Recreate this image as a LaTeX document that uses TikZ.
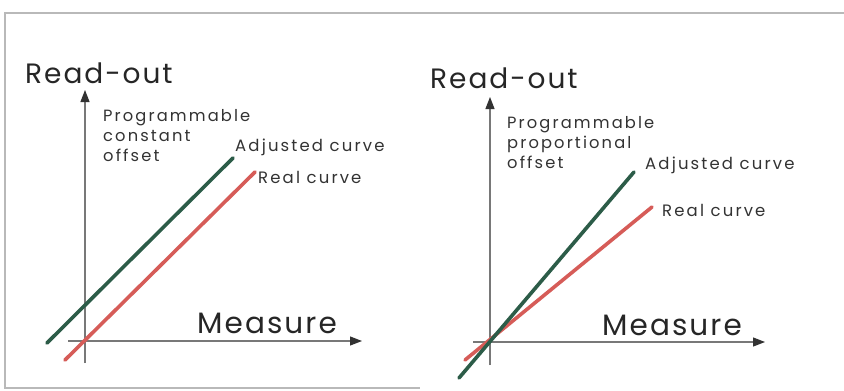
\documentclass[tikz,border=0pt]{standalone}
\usepackage{fontspec}
\setmainfont{Poppins}
\newfontfamily\bigfam[LetterSpace=7]{Poppins}
\newfontfamily\smallfam[LetterSpace=13]{Poppins}
\usetikzlibrary{arrows.meta}
\definecolor{adjgreen}{RGB}{44,92,72}
\definecolor{realred}{RGB}{214,92,88}
\definecolor{axisgray}{RGB}{120,120,120}
\definecolor{tipgray}{RGB}{50,50,50}
\definecolor{framegray}{RGB}{185,185,185}
\tikzset{
  axisline/.style={draw=axisgray, line width=1.2pt, -{Triangle[length=12pt,width=9pt,fill=tipgray,color=tipgray]}},
  adjline/.style={draw=adjgreen, line width=3.6pt, line cap=round},
  realline/.style={draw=realred, line width=3.6pt, line cap=round},
  bigtxt/.style={inner sep=0pt, anchor=base west, font=\bigfam\fontsize{28}{28}\selectfont, text=black!85},
  measuretxt/.style={bigtxt, font=\bigfam\fontsize{29.5}{29.5}\selectfont},
  smalltxt/.style={inner sep=0pt, anchor=north west, align=left, font=\smallfam\fontsize{16.3}{20}\selectfont, text=black!80},
  curvetxt/.style={inner sep=0pt, anchor=west, font=\smallfam\fontsize{16.5}{18}\selectfont, text=black!80},
  framestyle/.style={draw=framegray, line width=1.8pt}
}
\begin{document}
\begin{tikzpicture}[x=1pt,y=-1pt]
\useasboundingbox (0,0) rectangle (844,391);
\fill[white] (0,0) rectangle (844,391);
% frame
\coordinate (ftr) at (844,13);
\coordinate (ftl) at (5,13);
\coordinate (fbl) at (5,388);
\coordinate (fbr) at (420,388);
\draw[framestyle] (ftr) -- (ftl) -- (fbl) -- (fbr);

% ---------- left panel ----------
\coordinate (ly0) at (85,363);
\coordinate (ly1) at (85,90);
\coordinate (lx0) at (68,341);
\coordinate (lx1) at (362,341);
\draw[axisline] (ly0) -- (ly1);
\draw[axisline] (lx0) -- (lx1);
\coordinate (lg0) at (47,343);
\coordinate (lg1) at (233,158);
\coordinate (lr0) at (65,360);
\coordinate (lr1) at (255,172);
\draw[adjline] (lg0) -- (lg1);
\draw[realline] (lr0) -- (lr1);
\node[bigtxt] (lreadout) at (25,83) {Read-out};
\node[measuretxt] (lmeasure) at (197,333) {Measure};
\node[smalltxt] (lprog) at (103,109) {Programmable\\constant\\offset};
\node[curvetxt] (ladj) at (235,147) {Adjusted curve};
\node[curvetxt] (lreal) at (258,177) {Real curve};

% ---------- right panel ----------
\coordinate (ry0) at (490,365);
\coordinate (ry1) at (490,97);
\coordinate (rx0) at (473,342);
\coordinate (rx1) at (765,342);
\draw[axisline] (ry0) -- (ry1);
\draw[axisline] (rx0) -- (rx1);
\coordinate (rg0) at (459,378);
\coordinate (rg1) at (634,172);
\coordinate (rr0) at (465,360);
\coordinate (rr1) at (652,207);
\draw[realline] (rr0) -- (rr1);
\draw[adjline] (rg0) -- (rg1);
\node[bigtxt] (rreadout) at (430,88) {Read-out};
\node[measuretxt] (rmeasure) at (602,335) {Measure};
\node[smalltxt] (rprog) at (507,116) {Programmable\\proportional\\offset};
\node[curvetxt] (radj) at (645,165) {Adjusted curve};
\node[curvetxt] (rreal) at (662,210) {Real curve};
\end{tikzpicture}
\end{document}
